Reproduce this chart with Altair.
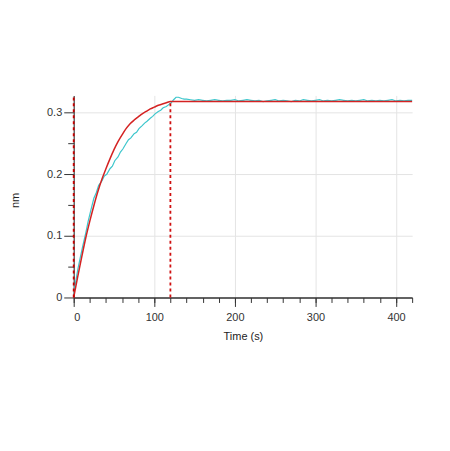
import altair as alt
import pandas as pd

# --- data ---
fit_t = [0, 5, 10, 15, 20, 25, 30, 35, 40, 45, 50, 55, 60, 65, 70, 75, 80, 85,
         90, 95, 100, 105, 110, 115, 120, 200, 300, 420]
fit_y = [0.0, 0.034, 0.066, 0.097, 0.124, 0.149, 0.172, 0.192, 0.209, 0.225,
         0.240, 0.253, 0.264, 0.274, 0.282, 0.288, 0.293, 0.298, 0.302, 0.306,
         0.309, 0.312, 0.314, 0.316, 0.318, 0.318, 0.318, 0.318]

rise_t = [0, 2, 5, 8, 11, 15, 18, 21, 25, 28, 31, 35, 38, 41, 45, 48, 51, 55,
          58, 61, 65, 68, 71, 75, 78, 81, 85, 88, 91, 95, 98, 101, 105, 108,
          111, 115, 118, 121, 124, 127, 130, 134, 137]
rise_y = [0.003, 0.022, 0.045, 0.064, 0.082, 0.105, 0.124, 0.140, 0.161, 0.170,
          0.182, 0.189, 0.197, 0.200, 0.209, 0.213, 0.222, 0.228, 0.236, 0.241,
          0.250, 0.256, 0.259, 0.266, 0.268, 0.274, 0.279, 0.283, 0.286, 0.291,
          0.294, 0.298, 0.302, 0.304, 0.308, 0.310, 0.313, 0.316, 0.321, 0.325,
          0.325, 0.323, 0.322]
plateau_t = list(range(140, 425, 5))
plateau_y = [0.322, 0.321, 0.320, 0.321, 0.320, 0.319, 0.320, 0.321, 0.320, 0.319,
             0.320, 0.320, 0.321, 0.319, 0.320, 0.321, 0.320, 0.319, 0.320, 0.318,
             0.319, 0.320, 0.321, 0.319, 0.320, 0.319, 0.318, 0.320, 0.319, 0.321,
             0.320, 0.319, 0.320, 0.321, 0.319, 0.320, 0.319, 0.320, 0.321, 0.320,
             0.319, 0.320, 0.319, 0.320, 0.321, 0.319, 0.320, 0.319, 0.320, 0.319,
             0.320, 0.321, 0.319, 0.320, 0.319, 0.320, 0.320]

rule_t = [0, 120]
rule_top = [0.328, 0.318]
rule_colors = ["#c80000", "#d01010"]

x_major = [0, 100, 200, 300, 400]
x_minor = list(range(0, 421, 20))
y_major = [0, 0.1, 0.2, 0.3]
y_minor = [0.05, 0.15, 0.25]

data_df = pd.DataFrame({"t": rise_t + plateau_t, "y": rise_y + plateau_y})
fit_df = pd.DataFrame({"t": fit_t, "y": fit_y})
rule_df = pd.DataFrame({"t": rule_t, "y0": [0, 0], "y1": rule_top, "c": rule_colors})

FONT = "Liberation Sans"
xs = alt.Scale(domain=[0, 420], nice=False, zero=False)
ys = alt.Scale(domain=[0, 0.328], nice=False, zero=False)

x_major_axis = alt.Axis(values=x_major, title="Time (s)", orient="bottom", grid=True,
                        gridColor="#e4e4e4", tickSize=9, tickColor="#333",
                        domainColor="#333", domainWidth=1.5, labelPadding=5,
                        titlePadding=8, format="d", zindex=0)
y_major_axis = alt.Axis(values=y_major, title="nm", orient="left", grid=True,
                        gridColor="#e4e4e4", tickSize=10, tickColor="#333",
                        domainColor="#444", domainWidth=1.2, labelPadding=2,
                        titleX=-58, titleY=105, titleBaseline="middle",
                        format=".1~f", zindex=0)
x_minor_axis = alt.Axis(values=x_minor, title=None, orient="bottom", grid=False,
                        labels=False, domain=False, tickSize=5, tickColor="#333",
                        zindex=0)
y_minor_axis = alt.Axis(values=y_minor, title=None, orient="left", grid=False,
                        labels=False, domain=False, tickSize=6, tickColor="#333",
                        zindex=0)

data_line = alt.Chart(data_df).mark_line(color="#3cc6cc", strokeWidth=1.2).encode(
    x=alt.X("t:Q", scale=xs, axis=x_major_axis),
    y=alt.Y("y:Q", scale=ys, axis=y_major_axis),
)
fit_line = alt.Chart(fit_df).mark_line(color="#d42222", strokeWidth=1.5,
                                       interpolate="monotone").encode(
    x=alt.X("t:Q", scale=xs, axis=x_minor_axis),
    y=alt.Y("y:Q", scale=ys, axis=y_minor_axis),
)
rules = alt.Chart(rule_df).mark_rule(strokeDash=[3, 3], strokeWidth=1.8).encode(
    x=alt.X("t:Q", scale=xs, axis=None),
    y=alt.Y("y0:Q", scale=ys, axis=None),
    y2="y1:Q",
    color=alt.Color("c:N", scale=None),
)

chart = alt.layer(data_line, fit_line, rules).resolve_axis(
    x="independent", y="independent"
).properties(
    width=340, height=203,
    autosize=alt.AutoSizeParams(type="none"),
    padding={"left": 66, "top": 87, "right": 30, "bottom": 60},
).configure(background="white").configure_view(stroke=None).configure_axis(
    labelFont=FONT, titleFont=FONT, labelFontSize=11, titleFontSize=11,
    labelColor="#333", titleColor="#222", titleFontWeight="normal",
)

chart.save("out.html", embed_options={"renderer": "svg", "actions": False})
